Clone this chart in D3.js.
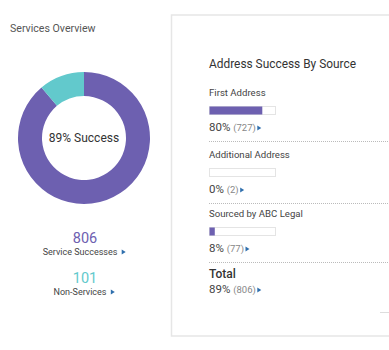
<!DOCTYPE html>
<html><head><meta charset="utf-8">
<script src="https://cdn.jsdelivr.net/npm/d3@7"></script>
<style>
html,body{margin:0;padding:0;background:#fff;}
svg{display:block;font-family:Roboto,"Noto Sans",sans-serif;}
</style></head>
<body><svg id="c" width="389" height="350"></svg>
<script>
const categories = ["Service Successes", "Non-Services"];
const values = [806, 101];
const successPct = 89;
const sources = ["First Address", "Additional Address", "Sourced by ABC Legal"];
const sourcePct = [80, 0, 8];
const sourceCounts = [727, 2, 77];
const totalLabel = "Total";
const totalPct = 89;
const totalCount = 806;

const purple = "#6d60b0", teal = "#62c9cc", arrowCol = "#2f6fad";
const svg = d3.select("#c");

// left panel
svg.append("text").attr("x", 10).attr("y", 31.5).attr("font-size", 10.6).attr("fill", "#555").text("Services Overview");

const color = d3.scaleOrdinal().domain(categories).range([purple, teal]);
const pie = d3.pie().sort(null).value(d => d.v);
const arc = d3.arc().innerRadius(42).outerRadius(66);
const g = svg.append("g").attr("transform", "translate(84,138)");
g.selectAll("path").data(pie(categories.map((c, i) => ({c, v: values[i]})))).join("path")
  .attr("d", arc).attr("fill", d => color(d.data.c));
g.append("text").attr("text-anchor", "middle").attr("y", 4.3).attr("font-size", 12).attr("fill", "#333").text(successPct + "% Success");

const legY = [243, 283];
categories.forEach((c, i) => {
  svg.append("text").attr("x", 85).attr("y", legY[i]).attr("text-anchor", "middle").attr("font-size", 14.5).attr("fill", color(c)).text(values[i]);
  const t = svg.append("text").attr("x", 80).attr("y", legY[i] + 11.5).attr("text-anchor", "middle").attr("font-size", 9).attr("fill", "#444").text(c);
  const bb = t.node().getBBox();
  svg.append("path").attr("d", `M${bb.x + bb.width + 4},${legY[i] + 6.5}l4,2.5l-4,2.5z`).attr("fill", arrowCol);
});

// right panel
svg.append("path").attr("d", "M389,15H171.5V336H389").attr("fill", "none").attr("stroke", "#e6e6e6").attr("stroke-width", 1.5);
svg.append("text").attr("x", 209).attr("y", 67.5).attr("font-size", 11.9).attr("fill", "#333").text("Address Success By Source");

const x = d3.scaleLinear().domain([0, 100]).range([0, 66]);
const rowTop = [96, 158, 217];
sources.forEach((s, i) => {
  const y0 = rowTop[i];
  svg.append("text").attr("x", 209).attr("y", y0).attr("font-size", 9.6).attr("fill", "#444").text(s);
  svg.append("rect").attr("x", 209.5).attr("y", y0 + 10.5).attr("width", x(100)).attr("height", 8).attr("fill", "#fff").attr("stroke", "#e4e4e4");
  svg.append("rect").attr("x", 209.5).attr("y", y0 + 10.5).attr("width", x(sourcePct[i])).attr("height", 8).attr("fill", purple);
  const t = svg.append("text").attr("x", 209).attr("y", y0 + 35).attr("fill", "#444");
  t.append("tspan").attr("font-size", 11.5).text(sourcePct[i] + "% ");
  t.append("tspan").attr("font-size", 9.5).attr("fill", "#888").text("(" + sourceCounts[i] + ")");
  const bb = t.node().getBBox();
  svg.append("path").attr("d", `M${bb.x + bb.width + 1.5},${y0 + 29.5}l4,2.5l-4,2.5z`).attr("fill", arrowCol);
  svg.append("line").attr("x1", 209).attr("x2", 389).attr("y1", y0 + 45.5).attr("y2", y0 + 45.5)
    .attr("stroke", "#bbb").attr("stroke-width", 1).attr("stroke-dasharray", "1,1");
});
svg.append("text").attr("x", 209).attr("y", 277.5).attr("font-size", 12).attr("font-weight", 500).attr("fill", "#333").text(totalLabel);
const tt = svg.append("text").attr("x", 209).attr("y", 293).attr("fill", "#444");
tt.append("tspan").attr("font-size", 11.5).text(totalPct + "% ");
tt.append("tspan").attr("font-size", 9.5).attr("fill", "#888").text("(" + totalCount + ")");
const tb = tt.node().getBBox();
svg.append("path").attr("d", `M${tb.x + tb.width + 1.5},${287.5}l4,2.5l-4,2.5z`).attr("fill", arrowCol);
svg.append("line").attr("x1", 380).attr("x2", 389).attr("y1", 312.5).attr("y2", 312.5).attr("stroke", "#ddd");
</script></body></html>
